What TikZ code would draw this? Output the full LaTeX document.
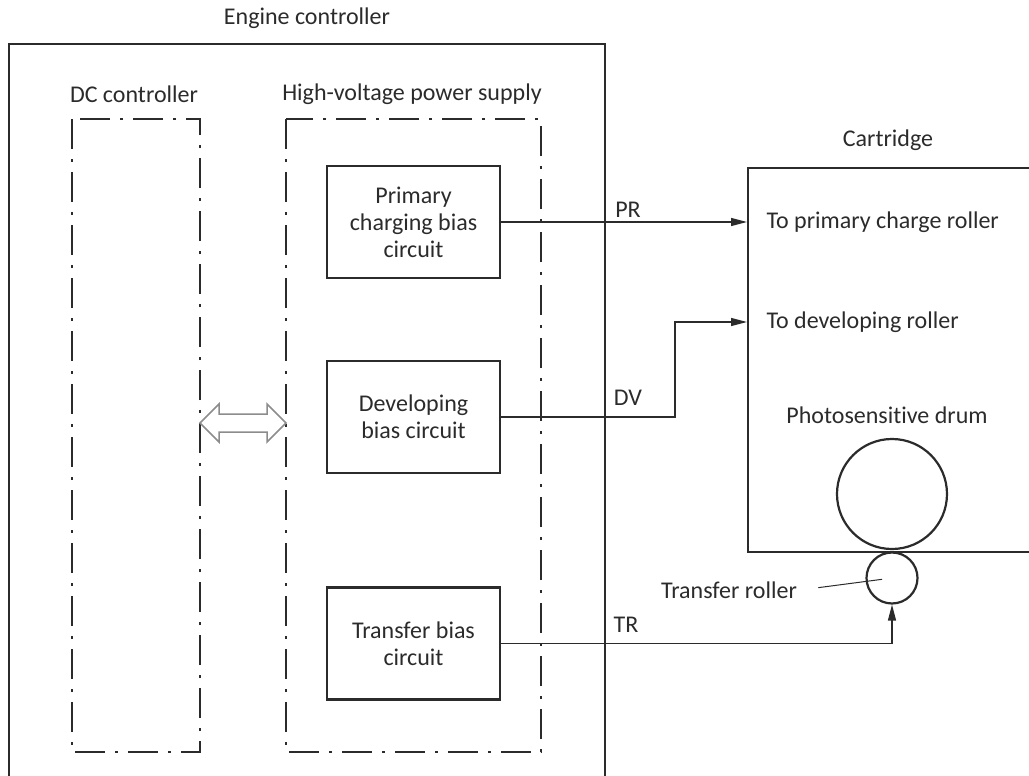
\documentclass[tikz,border=0pt]{standalone}
\usepackage{fontspec}
\setmainfont{Carlito}[Ligatures=NoCommon]
\usepackage{xcolor}
\usetikzlibrary{arrows.meta, positioning, calc}
\definecolor{inkgray}{HTML}{2B2B2B}
\definecolor{hollowgray}{HTML}{8C8C8C}

\begin{document}
\begin{tikzpicture}[x=1pt, y=-1pt,
    font=\fontsize{24}{27}\selectfont, text=inkgray,
    circuitbox/.style={draw=inkgray, line width=2.2pt, minimum width=173pt,
        minimum height=112pt, align=center, inner sep=0pt},
    dashdot/.style={draw=inkgray, line width=2.2pt,
        dash pattern=on 30pt off 10pt on 3pt off 10pt},
    feed/.style={draw=inkgray, line width=1.3pt,
        -{Triangle[length=16pt, width=8pt]}},
    roller/.style={circle, draw=inkgray, line width=2.2pt, inner sep=0pt}]
\useasboundingbox (0,0) rectangle (1029,776);
\clip (0,0) rectangle (1029,776);

% Engine controller
\node (engtitle) at (307,18) {Engine controller};
\draw[inkgray, line width=2.2pt] (9,800) -- (9,44) -- (605,44) -- (605,800);

% DC controller and high-voltage power supply
\node (dctitle) at (134,94) {DC controller};
\node (hvtitle) at (412,94) {High-voltage power supply};
\draw[dashdot] (72,119) rectangle (200,752);
\draw[dashdot] (286,119) rectangle (541,752);
\draw[hollowgray, line width=1.5pt, fill=white]
    (200,423) -- (219,404) -- (219,414) -- (267,414) -- (267,404)
    -- (286,423) -- (267,442) -- (267,432) -- (219,432) -- (219,442) -- cycle;

% Bias circuits
\node[circuitbox] (prim) at (413.5,222) {Primary\\charging bias\\circuit};
\node[circuitbox] (dev) at (413.5,417) {Developing\\bias circuit};
\node[circuitbox] (trans) at (413.5,643.5) {Transfer bias\\circuit};

% Cartridge
\node (carttitle) at (888,140) {Cartridge};
\node[draw=inkgray, line width=2.2pt, anchor=north west, minimum width=320pt,
    minimum height=384pt] (cart) at (747,167) {};
\node[anchor=west] (topcr) at (763,222) {To primary charge roller};
\node[anchor=west] (todr) at (763,322) {To developing roller};
\node (drumtitle) at (887,415) {Photosensitive drum};
\node[roller, minimum size=110pt] (drum) at (892,494) {};
\node[roller, minimum size=51pt] (troll) at (892,578) {};
\node (trtitle) at (729,590) {Transfer roller};
\draw[inkgray, line width=1pt, shorten <=18pt, shorten >=10pt]
    (trtitle.east) -- (troll.center);

% Bias outputs
\coordinate (dvbend) at (675,0);
\draw[feed] (prim.east) -- (prim.east -| cart.west);
\draw[feed] (dev.east) -| (dvbend |- todr) -- (todr -| cart.west);
\draw[feed] (trans.east) -| (troll.south);
\node (prlabel) at (628,210) {PR};
\node (dvlabel) at (628,398) {DV};
\node (trlabel) at (626,625) {TR};
\end{tikzpicture}
\end{document}
